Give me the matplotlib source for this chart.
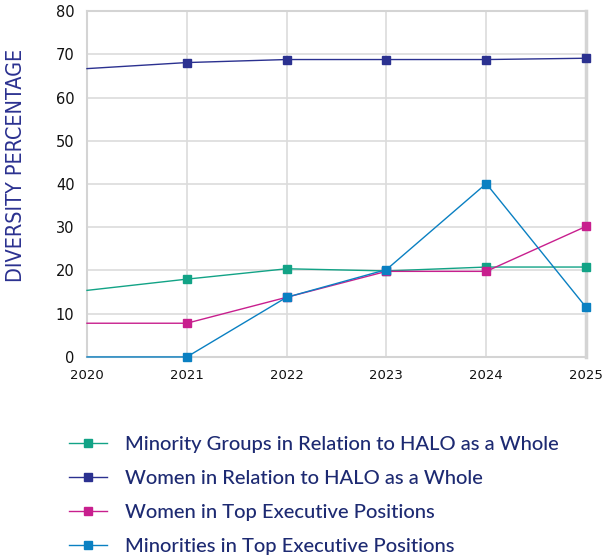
import numpy as np
import matplotlib
matplotlib.use("Agg")
import matplotlib.pyplot as plt

plt.rcParams['font.family'] = ['DejaVu Sans']

years = [2020, 2021, 2022, 2023, 2024, 2025]
minorityGroups = [15.4, 18.0, 20.4, 19.9, 20.8, 20.8]
womenWhole = [66.7, 68.1, 68.8, 68.8, 68.8, 69.1]
womenExec = [7.8, 7.8, 13.8, 19.8, 19.8, 30.2]
minoritiesExec = [0.0, 0.0, 13.8, 20.2, 40.1, 11.5]

labels = ['Minority Groups in Relation to HALO as a Whole',
          'Women in Relation to HALO as a Whole',
          'Women in Top Executive Positions',
          'Minorities in Top Executive Positions']
colors = ['#12a386', '#2b3190', '#c81f8e', '#0a80c2']
navy = '#1d2a72'

def main():
    fig = plt.figure(figsize=(6.02, 5.56), dpi=100)
    ax = fig.add_axes([0.1445, 0.358, 0.829, 0.622])

    series = [minorityGroups, womenWhole, womenExec, minoritiesExec]
    for ys, lab, col in zip(series, labels, colors):
        ax.plot(years, ys, color=col, lw=1.0, marker='s', ms=6,
                markevery=slice(1, None), label=lab, clip_on=False, zorder=3)

    ax.set_xlim(2020, 2025)
    ax.set_ylim(0, 80)
    ax.set_yticks(np.arange(0, 81, 10))
    ax.set_xticks(years)
    ax.grid(color='#dcdcdc', lw=1.2)
    ax.set_axisbelow(True)
    for s in ax.spines.values():
        s.set_color('#d4d4d4')
        s.set_linewidth(1.5)
    ax.spines['right'].set_linewidth(2.5)
    ax.tick_params(length=0, labelcolor='#111111')
    ax.tick_params(axis='y', pad=9, labelsize=10.5)
    ax.tick_params(axis='x', pad=9, labelsize=9.5)

    fig.text(0.026, 0.703, 'DIVERSITY PERCENTAGE', rotation=90, color='#2b3190',
             fontsize=15.5, fontstretch='condensed',
             ha='center', va='center')

    fig.legend(loc='upper left', bbox_to_anchor=(0.085, 0.249),
               frameon=False, handlelength=1.85,
               handletextpad=0.9, labelspacing=0.85, labelcolor=navy,
               prop={'family': ['Lato', 'DejaVu Sans'], 'size': 14.5,
                     'weight': 'medium'})
    plt.savefig('out.png', dpi=100)

if __name__ == "__main__":
    main()
